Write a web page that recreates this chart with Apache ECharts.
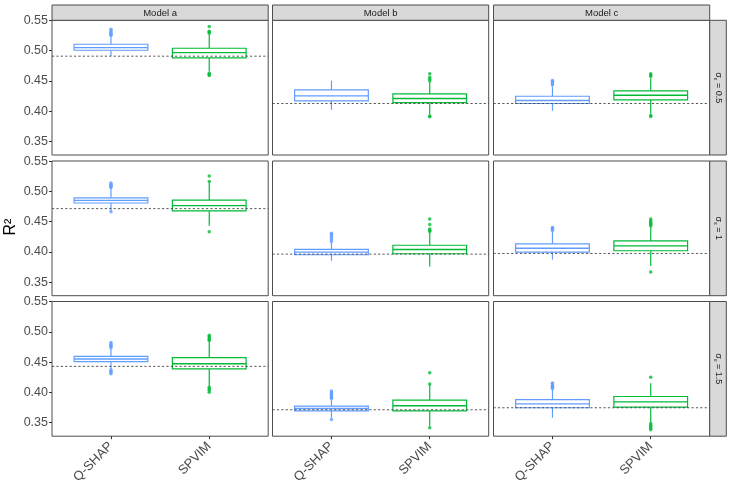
<!DOCTYPE html>
<html>
<head>
<meta charset="utf-8">
<script src="https://cdn.jsdelivr.net/npm/echarts@6/dist/echarts.min.js"></script>
<style>html,body{margin:0;padding:0;background:#fff}#c{width:731px;height:491px}</style>
</head>
<body>
<div id="c"></div>
<script>
// ---- data ----
const models = ['Model a', 'Model b', 'Model c'];
const sigmaLabels = ['0.5', '1', '1.5'];
const methods = ['Q-SHAP', 'SPVIM'];
const yTicks = [0.35, 0.40, 0.45, 0.50, 0.55];

// [min whisker, Q1, median, Q3, max whisker]; rows = sigma, cols = model
const qshapStats = [
  [[0.4915, 0.5008, 0.5051, 0.5107, 0.5243], [0.4025, 0.4172, 0.4254, 0.4352, 0.4505], [0.4008, 0.4128, 0.4177, 0.4248, 0.4402]],
  [[0.4678, 0.4809, 0.4853, 0.4895, 0.5059], [0.3856, 0.3954, 0.3997, 0.4041, 0.4145], [0.3873, 0.3997, 0.4062, 0.4134, 0.4330]],
  [[0.4388, 0.4508, 0.4553, 0.4595, 0.4720], [0.3582, 0.3697, 0.3735, 0.3773, 0.3880], [0.3582, 0.3747, 0.3812, 0.3883, 0.4050]]
];
const spvimStats = [
  [[0.4657, 0.4882, 0.4969, 0.5041, 0.5270], [0.3945, 0.4144, 0.4210, 0.4287, 0.4480], [0.3960, 0.4189, 0.4264, 0.4336, 0.4545]],
  [[0.4433, 0.4678, 0.4765, 0.4858, 0.5140], [0.3758, 0.3970, 0.4041, 0.4111, 0.4320], [0.3768, 0.4020, 0.4101, 0.4183, 0.4410]],
  [[0.4102, 0.4388, 0.4475, 0.4574, 0.4840], [0.3444, 0.3697, 0.3780, 0.3872, 0.4130], [0.3500, 0.3757, 0.3845, 0.3933, 0.4150]]
];
const qshapOutliers = [
  [[0.5255, 0.5270, 0.5290, 0.5310, 0.5330, 0.5355], [], [0.4435, 0.4450, 0.4470, 0.4490, 0.4510]],
  [[0.5065, 0.5080, 0.5100, 0.5120, 0.5140, 0.4665], [0.4170, 0.4200, 0.4230, 0.4260, 0.4290, 0.4310], [0.4350, 0.4370, 0.4390, 0.4405]],
  [[0.4740, 0.4760, 0.4780, 0.4800, 0.4825, 0.4375, 0.4350, 0.4330, 0.4310], [0.3900, 0.3920, 0.3940, 0.3960, 0.3980, 0.4000, 0.4025, 0.3554], [0.4065, 0.4080, 0.4100, 0.4120, 0.4145, 0.4158]]
];
const spvimOutliers = [
  [[0.5290, 0.5310, 0.5320, 0.5400, 0.4630, 0.4610, 0.4590], [0.4500, 0.4530, 0.4560, 0.4620, 0.3920, 0.3910], [0.4575, 0.4600, 0.4620, 0.3930, 0.3915]],
  [[0.5163, 0.5255, 0.4335], [0.4340, 0.4360, 0.4380, 0.4454, 0.4543], [0.4430, 0.4450, 0.4470, 0.4490, 0.4515, 0.4543, 0.3670]],
  [[0.4860, 0.4880, 0.4900, 0.4920, 0.4945, 0.4086, 0.4060, 0.4035, 0.4005], [0.4141, 0.4327, 0.3418], [0.4250, 0.3485, 0.3460, 0.3435, 0.3410, 0.3385]]
];
const truthLines = [
  [0.4910, 0.4128, 0.4128],
  [0.4716, 0.3964, 0.3975],
  [0.4431, 0.3714, 0.3747]
];

// ---- layout ----
const colLeft = [52, 272.5, 493.5];
const panelW = 216.2;
const rowTop = [20.3, 161, 301.5];
const panelH = 134.7;
const colors = ['#619CFF', '#00BA38'];
const border = '#4d4d4d';
const halfBox = 0.375;
const font = 'Liberation Sans, Arial, sans-serif';

const grids = [], xAxes = [], yAxes = [], series = [], graphics = [];
let gi = 0;
for (let r = 0; r < 3; r++) {
  for (let c = 0; c < 3; c++) {
    grids.push({left: colLeft[c], top: rowTop[r], width: panelW, height: panelH,
      show: true, borderColor: border, borderWidth: 1, backgroundColor: '#fff'});
    const bottom = r === 2, leftCol = c === 0;
    xAxes.push({gridIndex: gi, type: 'value', min: 0.4, max: 2.6,
      axisLine: {show: false}, splitLine: {show: false},
      axisTick: {show: bottom, customValues: [1, 2], length: 3, lineStyle: {color: '#333'}},
      axisLabel: {show: bottom, customValues: [1, 2], rotate: 45, fontSize: 13, color: '#4d4d4d',
        fontFamily: font, margin: 8,
        formatter: v => methods[Math.round(v) - 1]}
    });
    yAxes.push({gridIndex: gi, type: 'value', min: 0.3277, max: 0.5503,
      axisLine: {show: false}, splitLine: {show: false},
      axisTick: {show: leftCol, customValues: yTicks, length: 3, lineStyle: {color: '#333'}},
      axisLabel: {show: leftCol, customValues: yTicks, fontSize: 12.5, color: '#4d4d4d', margin: 4,
        fontFamily: font, formatter: v => v.toFixed(2)}
    });
    const boxData = [[1].concat(qshapStats[r][c]), [2].concat(spvimStats[r][c])];
    series.push({
      type: 'custom', xAxisIndex: gi, yAxisIndex: gi, data: boxData, silent: true,
      encode: {x: 0, y: [1, 2, 3, 4, 5]},
      renderItem: function (params, api) {
        const x = api.value(0);
        const col = colors[x - 1];
        const lo = api.value(1), q1 = api.value(2), md = api.value(3), q3 = api.value(4), hi = api.value(5);
        const pL = api.coord([x - halfBox, q3]);
        const pR = api.coord([x + halfBox, q1]);
        const pHi = api.coord([x, hi]), pQ3 = api.coord([x, q3]);
        const pLo = api.coord([x, lo]), pQ1 = api.coord([x, q1]);
        const mL = api.coord([x - halfBox, md]), mR = api.coord([x + halfBox, md]);
        const ls = {stroke: col, lineWidth: 1.2};
        return {type: 'group', children: [
          {type: 'line', shape: {x1: pHi[0], y1: pHi[1], x2: pQ3[0], y2: pQ3[1]}, style: ls},
          {type: 'line', shape: {x1: pLo[0], y1: pLo[1], x2: pQ1[0], y2: pQ1[1]}, style: ls},
          {type: 'rect', shape: {x: pL[0], y: pL[1], width: pR[0] - pL[0], height: pR[1] - pL[1]},
            style: {fill: '#fff', stroke: col, lineWidth: 1.2}},
          {type: 'line', shape: {x1: mL[0], y1: mL[1], x2: mR[0], y2: mR[1]}, style: {stroke: col, lineWidth: 1.4}}
        ]};
      }
    });
    series.push({type: 'scatter', xAxisIndex: gi, yAxisIndex: gi, silent: true,
      data: qshapOutliers[r][c].map(v => [1, v]), symbolSize: 3.5,
      itemStyle: {color: colors[0]}});
    series.push({type: 'scatter', xAxisIndex: gi, yAxisIndex: gi, silent: true,
      data: spvimOutliers[r][c].map(v => [2, v]), symbolSize: 3.5,
      itemStyle: {color: colors[1]}});
    series.push({type: 'line', xAxisIndex: gi, yAxisIndex: gi, silent: true, symbol: 'none',
      data: [[0.4, truthLines[r][c]], [2.6, truthLines[r][c]]],
      lineStyle: {color: '#444', width: 0.9, type: [2.2, 2.2]}, z: 5});
    gi++;
  }
}

// strips
for (let c = 0; c < 3; c++) {
  graphics.push({type: 'rect', shape: {x: colLeft[c], y: 5, width: panelW, height: rowTop[0] - 5},
    style: {fill: '#d9d9d9', stroke: border, lineWidth: 1}, z: 10});
  graphics.push({type: 'text', x: colLeft[c] + panelW / 2, y: 5 + (rowTop[0] - 5) / 2 + 0.5,
    style: {text: models[c], fill: '#1a1a1a', fontSize: 9.5, fontFamily: font,
      align: 'center', verticalAlign: 'middle'}, z: 11});
}
const stripX = colLeft[2] + panelW;
for (let r = 0; r < 3; r++) {
  graphics.push({type: 'rect', shape: {x: stripX, y: rowTop[r], width: 16.6, height: panelH},
    style: {fill: '#d9d9d9', stroke: border, lineWidth: 1}, z: 10});
  graphics.push({type: 'text', x: stripX + 8.5, y: rowTop[r] + panelH / 2, rotation: -Math.PI / 2,
    style: {text: '{a|σ}{b|ε}{a| = ' + sigmaLabels[r] + '}', align: 'center', verticalAlign: 'middle',
      rich: {a: {fontSize: 9, fill: '#1a1a1a', fontFamily: font},
             b: {fontSize: 6, fill: '#1a1a1a', fontFamily: font, padding: [5, 0, 0, 0]}}}, z: 11});
}
// y title
graphics.push({type: 'text', x: 11, y: 227, rotation: Math.PI / 2,
  style: {text: 'R²', fontSize: 16, fill: '#000', fontFamily: font,
    align: 'center', verticalAlign: 'middle'}});

const chart = echarts.init(document.getElementById('c'), null, {renderer: 'canvas'});
chart.setOption({
  animation: false,
  backgroundColor: '#fff',
  grid: grids, xAxis: xAxes, yAxis: yAxes, series: series, graphic: graphics
});
</script>
</body>
</html>
